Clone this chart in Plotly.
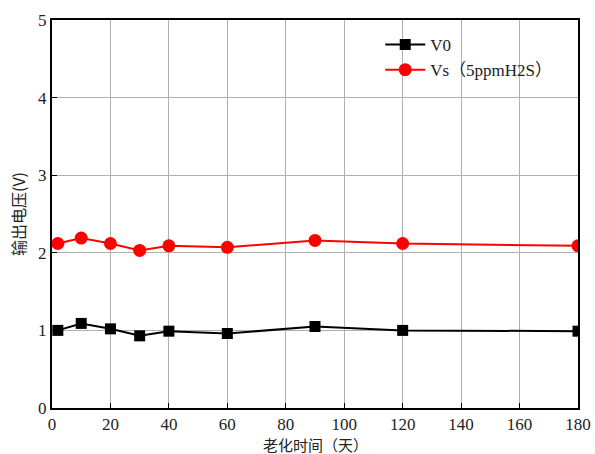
import plotly.graph_objects as go

days = [2, 10, 20, 30, 40, 60, 90, 120, 180]
v0 = [1.00, 1.09, 1.02, 0.93, 0.99, 0.96, 1.05, 1.00, 0.99]
vs = [2.12, 2.19, 2.12, 2.03, 2.09, 2.07, 2.16, 2.12, 2.09]
x_ticks = [0, 20, 40, 60, 80, 100, 120, 140, 160, 180]
y_ticks = [0, 1, 2, 3, 4, 5]

serif = "Liberation Serif, Times New Roman, serif"
cjk = "Noto Sans CJK SC"

fig = go.Figure()
fig.add_trace(go.Scatter(x=days, y=v0, mode="lines+markers", name="V0",
                         line=dict(color="black", width=2),
                         marker=dict(symbol="square", size=11, color="black")))
fig.add_trace(go.Scatter(x=days, y=vs, mode="lines+markers", name="Vs（5ppmH2S）",
                         line=dict(color="#ff0000", width=2),
                         marker=dict(symbol="circle", size=13, color="#ff0000")))

fig.update_layout(
    width=595, height=454,
    margin=dict(l=52, r=17, t=20, b=46, autoexpand=False),
    paper_bgcolor="white", plot_bgcolor="white",
    font=dict(family=serif, size=17, color="#222"),
    showlegend=True,
    legend=dict(x=0.624, y=0.982, xanchor="left", yanchor="top",
                bgcolor="rgba(0,0,0,0)", font=dict(family=serif + ", " + cjk, size=17),
                itemwidth=40, tracegroupgap=0),
    xaxis=dict(range=[0, 180], tickvals=x_ticks, ticks="inside", ticklen=5,
               tickcolor="black", showline=True, linecolor="black", linewidth=2,
               mirror=True, showgrid=True, gridcolor="#b0b0b0", gridwidth=1,
               zeroline=False, automargin=False, tickfont=dict(family=serif, size=17)),
    yaxis=dict(range=[0, 5], tickvals=y_ticks, ticks="inside", ticklen=5,
               tickcolor="black", showline=True, linecolor="black", linewidth=2,
               mirror=True, showgrid=True, gridcolor="#b0b0b0", gridwidth=1,
               zeroline=False, automargin=False, tickfont=dict(family=serif, size=17)),
    annotations=[
        dict(text="老化时间（天）", xref="paper", yref="paper", x=0.5, y=0,
             xanchor="center", yanchor="middle", yshift=-36, showarrow=False,
             borderpad=0, font=dict(family=cjk, size=15, color="#222")),
        dict(text="输出电压(V)", xref="paper", yref="paper", x=0, y=0.5,
             xanchor="center", yanchor="middle", xshift=-34, showarrow=False,
             borderpad=0, textangle=-90, font=dict(family=cjk, size=16, color="#222")),
    ],
)

# remove the default page margin so the 595x454 figure fills the window exactly
fig.write_html("out.html",
               config={"displayModeBar": False},
               post_script="document.body.style.margin='0';document.body.style.overflow='hidden';")
